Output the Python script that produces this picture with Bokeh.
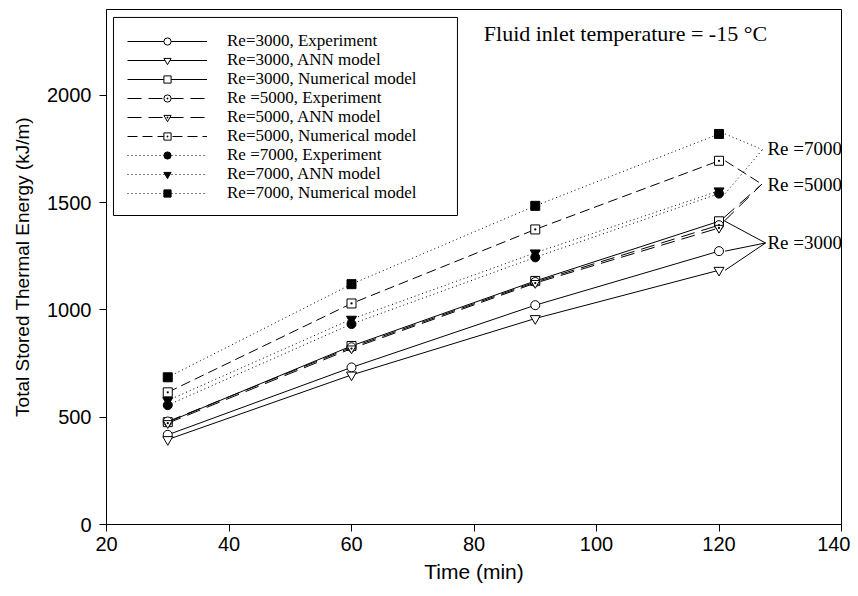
from bokeh.plotting import figure
from bokeh.models import Legend, LegendItem, Label, FixedTicker, Range1d, BoxAnnotation
from bokeh.embed import file_html
from bokeh.resources import INLINE

time = [30, 60, 90, 120]
re3000_exp = [418, 732, 1022, 1274]
re3000_ann = [396, 697, 960, 1185]
re3000_num = [477, 832, 1135, 1413]
re5000_exp = [480, 826, 1130, 1395]
re5000_ann = [472, 820, 1125, 1382]
re5000_num = [616, 1030, 1375, 1695]
re7000_exp = [556, 934, 1245, 1542]
re7000_ann = [578, 957, 1266, 1555]
re7000_num = [686, 1120, 1485, 1820]
x_ticks = [20, 40, 60, 80, 100, 120, 140]
y_ticks = [0, 500, 1000, 1500, 2000]

labels = ["Re=3000, Experiment", "Re=3000, ANN model", "Re=3000, Numerical model",
          "Re =5000, Experiment", "Re=5000, ANN model", "Re=5000, Numerical model",
          "Re =7000, Experiment", "Re=7000, ANN model", "Re=7000, Numerical model"]
series = [re3000_exp, re3000_ann, re3000_num, re5000_exp, re5000_ann, re5000_num,
          re7000_exp, re7000_ann, re7000_num]
dashes = ["solid", "solid", "solid", "14 7", "14 7", "10 5", "1 3", "1 3", "1 3"]
markers = ["circle", "inverted_triangle", "square", "circle_dot", "inverted_triangle", "square_dot",
           "circle", "inverted_triangle", "square"]
fills = ["white", "white", "white", "white", "white", "white", "black", "black", "black"]
sizes = [9, 10, 9, 9, 9, 9, 9, 10, 9]

p = figure(width=850, height=592, x_range=Range1d(20, 140), y_range=Range1d(0, 2400),
           output_backend="svg", toolbar_location=None,
           min_border_left=106, min_border_top=9, min_border_right=9, min_border_bottom=68)
p.xgrid.visible = False
p.ygrid.visible = False
p.outline_line_color = "black"
p.outline_line_width = 1
p.outline_line_alpha = 1
p.background_fill_color = "white"

p.xaxis.ticker = FixedTicker(ticks=x_ticks)
p.yaxis.ticker = FixedTicker(ticks=y_ticks)
for ax in (p.xaxis[0], p.yaxis[0]):
    ax.axis_line_color = "black"
    ax.major_tick_line_color = "black"
    ax.major_tick_in = 0
    ax.major_tick_out = 7
    ax.minor_tick_line_color = None
    ax.major_label_text_font = "Liberation Sans"
    ax.major_label_text_font_size = "20px"
    ax.major_label_text_color = "black"
    ax.axis_label_text_font = "Liberation Sans"
    ax.axis_label_text_font_style = "normal"
    ax.axis_label_text_color = "black"
p.xaxis.major_label_standoff = 5
p.xaxis.axis_label_standoff = 6
p.xaxis.axis_label_text_font_size = "21px"
p.yaxis.major_label_standoff = 8
p.yaxis.axis_label_standoff = 11
p.yaxis.axis_label_text_font_size = "19px"
p.xaxis.axis_label = "Time (min)"
p.yaxis.axis_label = "Total Stored Thermal Energy (kJ/m)"

# legend frame (drawn first so the entries sit on top)
p.add_layout(BoxAnnotation(left=21.14, right=77.3, top=2363, bottom=1440,
                           fill_color="white", fill_alpha=1,
                           line_color="black", line_width=1, line_alpha=1))

for i, (lab, ys, dash, mk, fc, sz) in enumerate(zip(labels, series, dashes, markers, fills, sizes)):
    r1 = p.line(time, ys, line_color="black", line_width=1, line_dash=dash)
    r2 = p.scatter(time, ys, marker=mk, size=sz, line_color="black", fill_color=fc, line_width=1)
    rs = [r1, r2]
    if lab == "Re=5000, ANN model":
        r3 = p.scatter(time, ys, marker="dot", size=9, line_color="black", fill_color="black")
        rs.append(r3)
    lg = Legend(items=[LegendItem(label=lab, renderers=rs)],
                location=(21, 473 - 19 * i))
    lg.margin = 0
    lg.padding = 0
    lg.spacing = 0
    lg.border_line_color = None
    lg.background_fill_alpha = 0
    lg.label_text_font = "Liberation Serif"
    lg.label_text_font_size = "17px"
    lg.label_text_color = "black"
    lg.glyph_width = 80
    lg.glyph_height = 18
    lg.label_height = 18
    lg.label_standoff = 20
    p.add_layout(lg)

# leader lines to the Re labels
t_end = time[-1]
v7 = (127.1, 1747)
v5 = (127.0, 1586)
v3 = (127.6, 1312)
for ys in (re7000_num, re7000_exp):
    p.line([t_end + 1, v7[0]], [ys[-1], v7[1]], line_color="black", line_width=1, line_dash="1 3")
p.line([t_end + 1, v5[0]], [re5000_num[-1], v5[1]], line_color="black", line_width=1, line_dash="10 5")
for ys, off in ((re5000_exp, 35), (re5000_ann, 30)):
    p.line([t_end + 0.8, v5[0]], [ys[-1] + off, v5[1]], line_color="black", line_width=1, line_dash="14 7")
for ys in (re3000_num, re3000_exp, re3000_ann):
    p.line([t_end + 1, v3[0]], [ys[-1], v3[1]], line_color="black", line_width=1)

for txt, yv in (("Re =7000", 1753), ("Re =5000", 1586), ("Re =3000", 1312)):
    p.add_layout(Label(x=127.9, y=yv, text=txt, text_font="Liberation Serif",
                       text_font_size="19px", text_baseline="middle", text_color="black"))

p.add_layout(Label(x=81.6, y=2288, text="Fluid inlet temperature = -15 \u00b0C",
                   text_font="Liberation Serif", text_font_size="22px",
                   text_baseline="middle", text_color="black"))

open("out.html", "w").write(file_html(p, INLINE))
